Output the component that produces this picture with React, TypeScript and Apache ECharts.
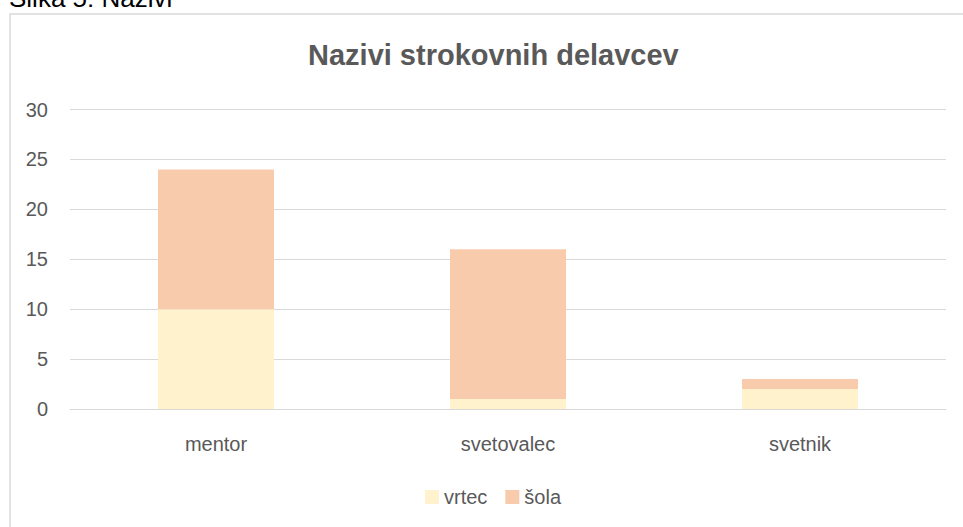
import React, { useEffect, useRef } from "react";
import * as echarts from "echarts";

const categories = ["mentor", "svetovalec", "svetnik"];
const vrtec = [10, 1, 2];
const sola = [14, 15, 1];
const yTicks = { min: 0, max: 30, interval: 5 };
const seriesNames = ["vrtec", "šola"];
const colors = ["#FFF2CC", "#F8CBAD"];
const titleText = "Nazivi strokovnih delavcev";
const captionText = "Slika 5: Nazivi";

const FONT = "'Liberation Sans', Arial, sans-serif";
const TXT = "#595959";

export default function App() {
  const ref = useRef<HTMLDivElement>(null);
  useEffect(() => {
    if (!ref.current) return;
    const chart = echarts.init(ref.current, null, { renderer: "svg" });
    chart.setOption({
      animation: false,
      backgroundColor: "#ffffff",
      textStyle: { fontFamily: FONT },
      title: {
        text: titleText,
        left: 308,
        top: 40,
        padding: 0,
        textStyle: {
          fontFamily: FONT,
          fontSize: 29,
          fontWeight: "bold",
          color: TXT,
        },
      },
      graphic: [
        {
          type: "rect",
          shape: { x: 10, y: 14, width: 1000, height: 600 },
          style: { fill: "none", stroke: "#D9D9D9", lineWidth: 1.5 },
          silent: true,
          z: -10,
        },
        {
          type: "text",
          x: 9,
          y: -2,
          style: {
            text: captionText,
            font: `26px ${FONT}`,
            fill: "#000000",
            verticalAlign: "middle",
            align: "left",
          },
        },
      ],
      legend: {
        data: seriesNames,
        left: 425,
        top: 487,
        padding: 0,
        itemWidth: 14,
        itemHeight: 14,
        itemGap: 18,
        icon: "rect",
        textStyle: { fontFamily: FONT, fontSize: 20, color: TXT, padding: [0, 0, 0, 0] },
      },
      grid: { left: 70, right: 17, top: 109.5, bottom: 118, containLabel: false },
      xAxis: {
        type: "category",
        data: categories,
        axisTick: { show: false },
        axisLine: { show: true, lineStyle: { color: "#D9D9D9", width: 1 } },
        axisLabel: { fontFamily: FONT, fontSize: 20, color: TXT, margin: 25 },
      },
      yAxis: {
        type: "value",
        min: yTicks.min,
        max: yTicks.max,
        interval: yTicks.interval,
        axisLine: { show: false },
        axisTick: { show: false },
        splitLine: { lineStyle: { color: "#D9D9D9", width: 1 } },
        axisLabel: { fontFamily: FONT, fontSize: 20, color: TXT, margin: 22 },
      },
      series: [
        {
          name: seriesNames[0],
          type: "bar",
          stack: "total",
          data: vrtec,
          barWidth: 116,
          itemStyle: { color: colors[0] },
        },
        {
          name: seriesNames[1],
          type: "bar",
          stack: "total",
          data: sola,
          barWidth: 116,
          itemStyle: { color: colors[1] },
        },
      ],
    });
    return () => chart.dispose();
  }, []);
  return (
    <div
      ref={ref}
      style={{ position: "fixed", left: 0, top: 0, width: 963, height: 527 }}
    />
  );
}
